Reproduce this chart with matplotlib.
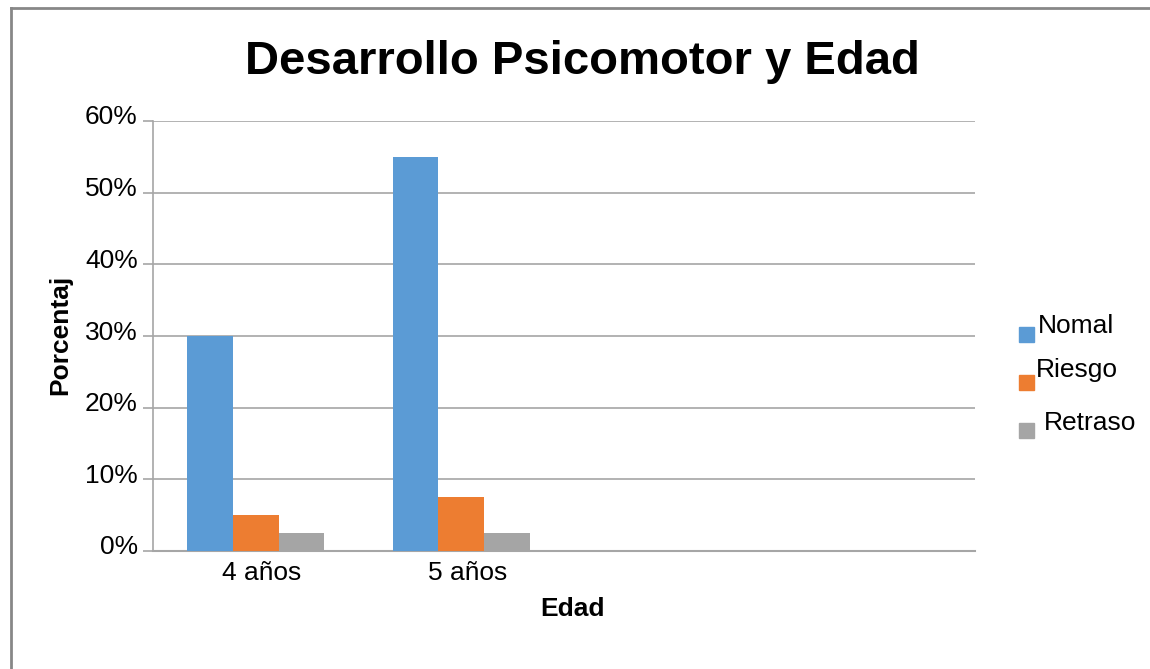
import numpy as np
import matplotlib
matplotlib.use("Agg")
import matplotlib.pyplot as plt
import matplotlib.transforms as mtransforms
from matplotlib.patches import Rectangle
from matplotlib.lines import Line2D
from matplotlib.ticker import PercentFormatter

plt.rcParams['font.family'] = ['Liberation Sans', 'DejaVu Sans']

# ---------- Data ----------
categories = ["4 años", "5 años", "", ""]
series_names = ["Nomal", "Riesgo", "Retraso"]
nomal = [30.0, 55.0, 0, 0]
riesgo = [5.0, 7.5, 0, 0]
retraso = [2.5, 2.5, 0, 0]
colors = ["#5b9bd5", "#ed7d31", "#a5a5a5"]
y_ticks = [0, 10, 20, 30, 40, 50, 60]

W, H = 1150, 669
fig = plt.figure(figsize=(W/100, H/100), dpi=100)
ax = fig.add_axes([153/W, 1 - 551/H, (975 - 153)/W, (551 - 121)/H])

x = np.arange(len(categories))
w = 46/207
for k, vals in enumerate([nomal, riesgo, retraso]):
    ax.bar(x + (k - 1)*w, vals, width=w, color=colors[k], zorder=3)

ax.set_xlim(-0.5, len(categories) - 0.5)
ax.set_ylim(0, 60)
ax.set_yticks(y_ticks)
ax.yaxis.set_major_formatter(PercentFormatter(decimals=0))
ax.set_xticks(x)
ax.set_xticklabels(categories)
ax.tick_params(axis='x', length=0, pad=7, labelsize=19, colors='#000000')
ax.tick_params(axis='y', length=7, width=1.2, color='#a6a6a6', pad=4, labelsize=19)
# Excel puts the category labels a little right of the group centre,
# and the value labels sit slightly above their gridline
x_off = mtransforms.ScaledTranslation(6/100, 0, fig.dpi_scale_trans)
for lab in ax.get_xticklabels():
    lab.set_transform(lab.get_transform() + x_off)
y_off = mtransforms.ScaledTranslation(0, 6/100, fig.dpi_scale_trans)
for lab in ax.get_yticklabels():
    lab.set_transform(lab.get_transform() + y_off)
ax.grid(axis='y', color='#a6a6a6', lw=1.2, zorder=0)
for s in ['top', 'right']:
    ax.spines[s].set_visible(False)
ax.spines['left'].set_color('#a6a6a6')
ax.spines['left'].set_linewidth(1.2)
ax.spines['bottom'].set_color('#a6a6a6')
ax.spines['bottom'].set_linewidth(1.5)

fig.text(60/W, 1 - 335/H, "Porcentaj", fontsize=19, fontweight='bold', rotation=90,
         ha='center', va='center')
fig.text(573/W, 1 - 616/H, "Edad", fontsize=19, fontweight='bold', ha='center', va='baseline')
fig.text(582/W, 1 - 74/H, "Desarrollo Psicomotor y Edad", fontsize=34, fontweight='bold',
         ha='center', va='baseline')

# ---------- Legend (manual, Excel-like offsets) ----------
sq_y = [327, 375, 423]
txt_pos = [(1038, 333), (1036, 377), (1044, 430)]
for k, name in enumerate(series_names):
    fig.add_artist(Rectangle((1019/W, 1 - (sq_y[k] + 15)/H), 15/W, 15/H,
                             transform=fig.transFigure, color=colors[k]))
    fig.text(txt_pos[k][0]/W, 1 - txt_pos[k][1]/H, name, fontsize=19, ha='left', va='baseline')

# ---------- Chart frame (top and left only) ----------
fig.add_artist(Line2D([11/W, 1], [1 - 8/H, 1 - 8/H], transform=fig.transFigure,
                      color='#878787', lw=2))
fig.add_artist(Line2D([11/W, 11/W], [0, 1 - 8/H], transform=fig.transFigure,
                      color='#878787', lw=2))

plt.savefig("out.png", dpi=100)
plt.close('all')
